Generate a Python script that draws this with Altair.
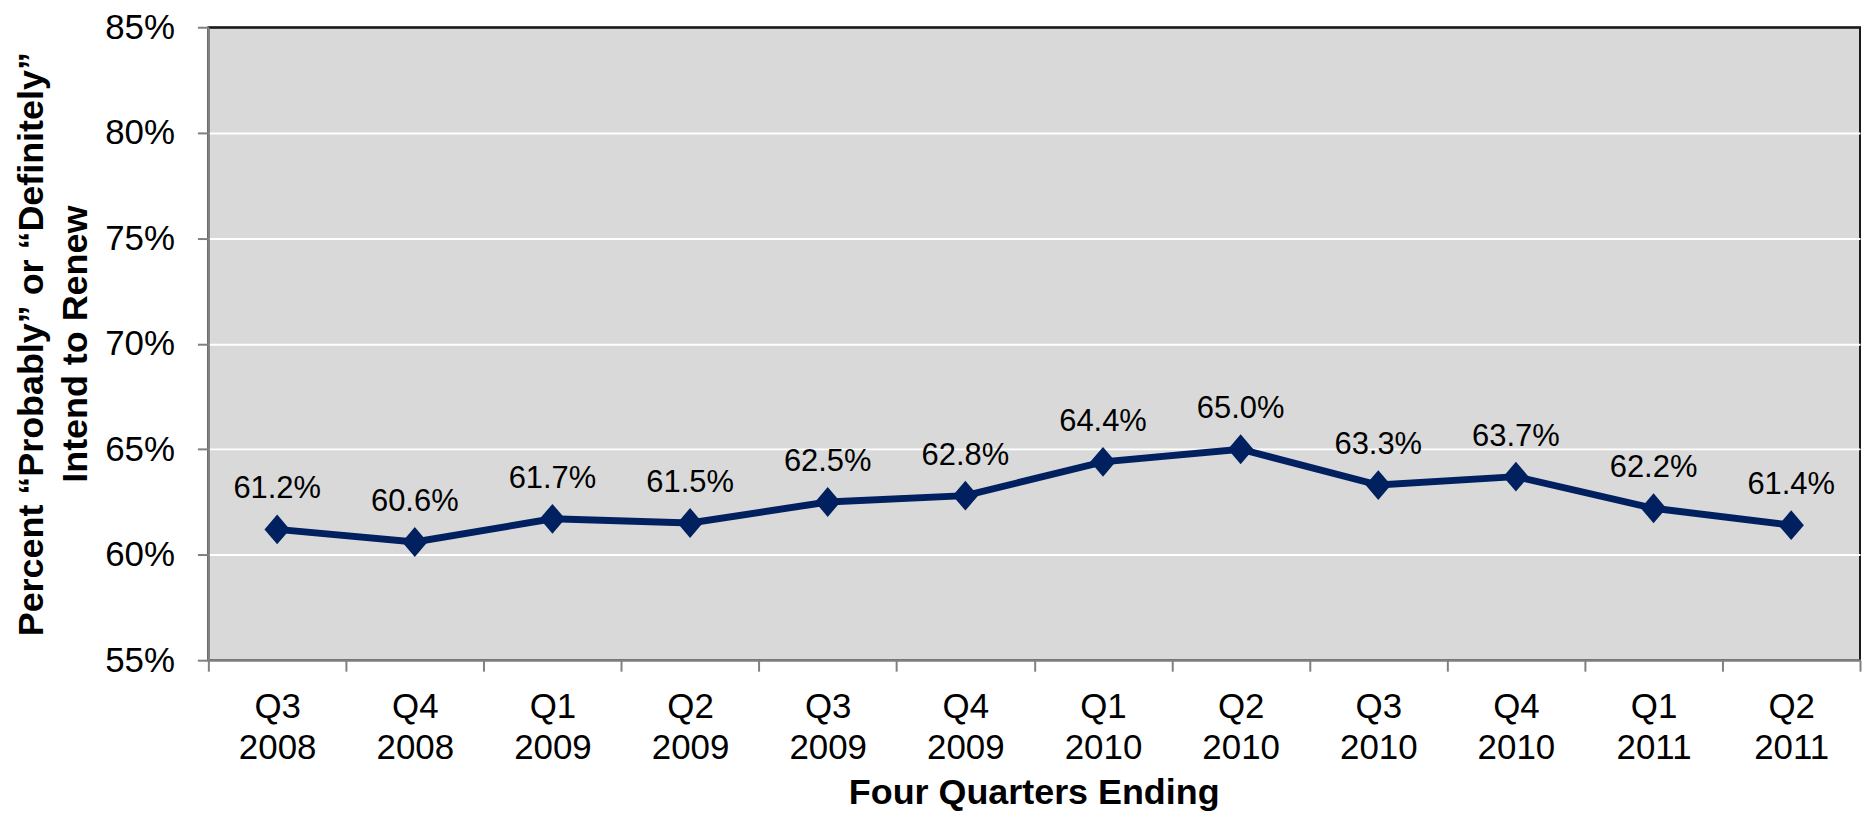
import altair as alt
import pandas as pd

quarters = ["Q3", "Q4", "Q1", "Q2", "Q3", "Q4", "Q1", "Q2", "Q3", "Q4", "Q1", "Q2"]
years = ["2008", "2008", "2009", "2009", "2009", "2009", "2010", "2010", "2010", "2010", "2011", "2011"]
values = [61.2, 60.6, 61.7, 61.5, 62.5, 62.8, 64.4, 65.0, 63.3, 63.7, 62.2, 61.4]
y_ticks = [55, 60, 65, 70, 75, 80, 85]

cats = [f"{q} {y}" for q, y in zip(quarters, years)]
df = pd.DataFrame({"period": cats, "value": values,
                   "label": [f"{v:.1f}%" for v in values]})

FONT = "Liberation Sans"
NAVY = "#002060"

x_enc = alt.X(
    "period:N", sort=cats,
    scale=alt.Scale(type="band", paddingInner=0, paddingOuter=0),
    axis=alt.Axis(
        title="Four Quarters Ending",
        titleFont=FONT, titleFontSize=36, titleFontWeight="bold", titleColor="black",
        titleBaseline="alphabetic", titleX=828, titleY=144, titleAnchor="middle",
        labelExpr="split(datum.label, ' ')",
        labelFont=FONT, labelFontSize=35, labelColor="black",
        labelBaseline="alphabetic", labelPadding=46, labelLineHeight=42,
        labelAngle=0,
        tickBand="extent", ticks=True, tickSize=11, tickColor="#808080", tickWidth=2,
        domainColor="#808080", domainWidth=2, grid=False,
    ),
)

y_enc = alt.Y(
    "value:Q",
    scale=alt.Scale(domain=[55, 85], nice=False, zero=False),
    axis=alt.Axis(
        values=y_ticks,
        labelExpr="datum.value + '%'",
        title=["Percent \u201cProbably\u201d or \u201cDefinitely\u201d", "Intend to Renew"],
        titleFont=FONT, titleFontSize=36, titleFontWeight="bold", titleColor="black",
        titleAngle=-90, titleBaseline="alphabetic", titleAlign="center",
        titleX=-166, titleY=317.5, titleLineHeight=44,
        labelFont=FONT, labelFontSize=35, labelColor="black", labelPadding=23,
        tickSize=11, tickColor="#808080", tickWidth=2,
        domainColor="#808080", domainWidth=2,
        grid=True,
        gridColor={"condition": {"test": "datum.value >= 85", "value": "#1a1a1a"}, "value": "#ffffff"},
        gridWidth=2,
    ),
)

base = alt.Chart(df)

line = base.mark_line(color=NAVY, strokeWidth=7).encode(x=x_enc, y=y_enc)
points = base.mark_point(
    shape="M-0.85,0L0,-1L0.85,0L0,1Z", filled=True, color=NAVY, opacity=1, size=900
).encode(x=x_enc, y=y_enc)
labels = base.mark_text(
    font=FONT, fontSize=31, color="black", baseline="alphabetic", align="center", dy=-31
).encode(x=x_enc, y=y_enc, text="label:N")

chart = (
    alt.layer(line, points, labels)
    .properties(
        width=1657, height=635,
        autosize=alt.AutoSizeParams(type="none"),
        padding={"left": 201, "top": 18, "right": 5, "bottom": 154},
    )
    .configure(background="white")
    .configure_view(fill="#D9D9D9", stroke="#1a1a1a", strokeWidth=2)
)

chart.save("out.html", embed_options={"renderer": "svg", "actions": False})
